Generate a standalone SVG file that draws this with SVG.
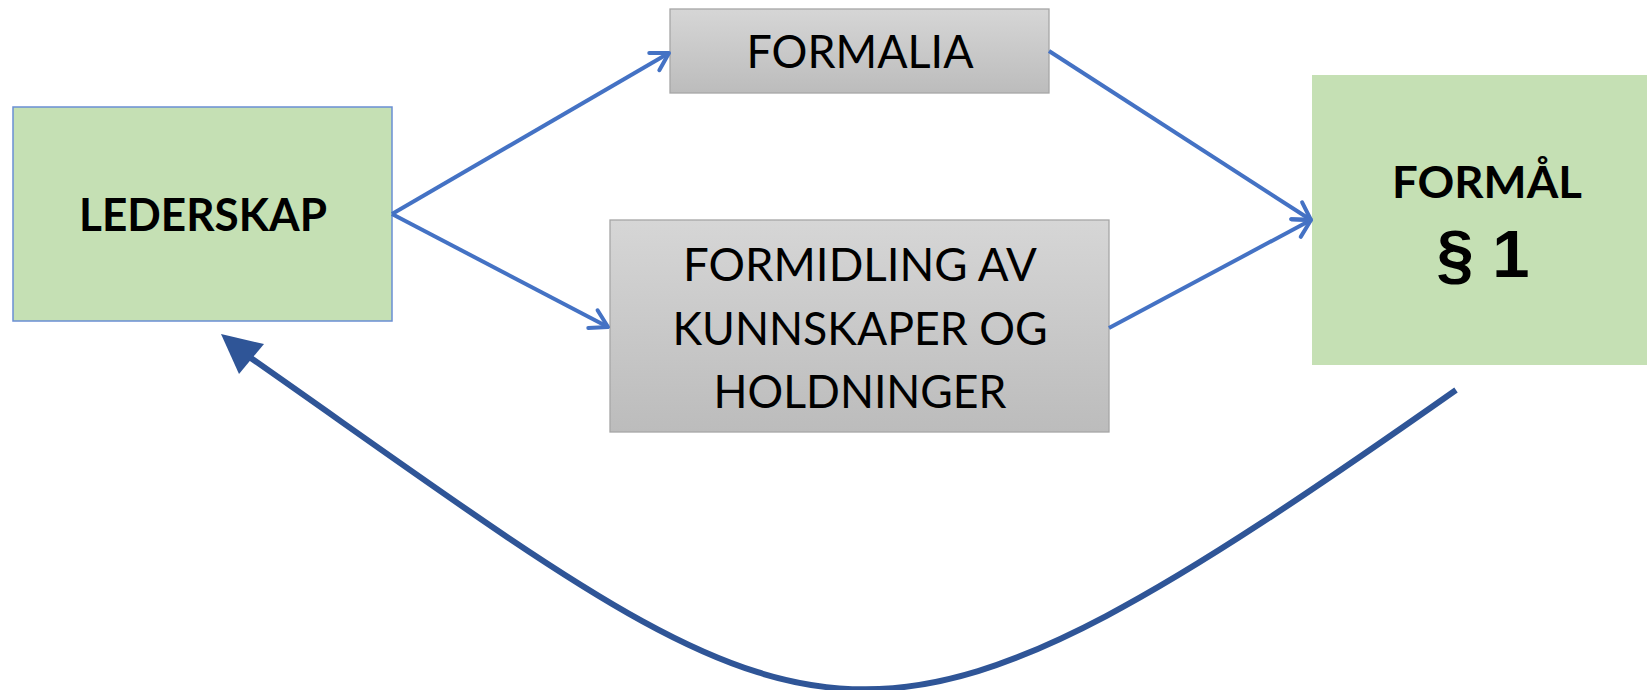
<svg xmlns="http://www.w3.org/2000/svg" width="1647" height="690" viewBox="0 0 1647 690">
<style>
.green{fill:#C5E0B4}
.gray{fill:url(#grayGrad);stroke:#A6A6A6;stroke-width:1.3}
.lbl{font-family:Lato,"Open Sans","Liberation Sans",sans-serif;fill:#000;text-anchor:middle}
.b{font-weight:bold}
.conn{fill:none;stroke:#4472C4;stroke-width:4;marker-end:url(#chev)}
</style>
<defs>
<linearGradient id="grayGrad" x1="0" y1="0" x2="0" y2="1">
<stop offset="0" stop-color="#D6D6D6"/>
<stop offset="1" stop-color="#BCBCBC"/>
</linearGradient>
<marker id="chev" markerUnits="userSpaceOnUse" viewBox="-25 -15 30 30" refX="0" refY="0" markerWidth="30" markerHeight="30" orient="auto" overflow="visible">
<path d="M-17,-10 L0,0 L-17,10" fill="none" stroke="#4472C4" stroke-width="4" stroke-linecap="round" stroke-linejoin="round"/>
</marker>
</defs>
<rect width="1647" height="690" fill="#FFFFFF"/>

<g id="node-lederskap">
<rect x="13" y="107" width="379" height="214" class="green" stroke="#6A8FD4" stroke-width="1.5"/>
<text x="203" y="231" class="lbl b" font-size="46" textLength="248" lengthAdjust="spacingAndGlyphs">LEDERSKAP</text>
</g>

<g id="node-formalia">
<rect x="670" y="9" width="379" height="84" class="gray"/>
<text x="860" y="68" class="lbl" font-size="46" textLength="227" lengthAdjust="spacingAndGlyphs">FORMALIA</text>
</g>

<g id="node-formidling">
<rect x="610" y="220" width="499" height="212" class="gray"/>
<text x="860" y="281" class="lbl" font-size="47" textLength="354" lengthAdjust="spacingAndGlyphs">FORMIDLING AV</text>
<text x="860" y="345" class="lbl" font-size="47" textLength="375" lengthAdjust="spacingAndGlyphs">KUNNSKAPER OG</text>
<text x="860" y="408" class="lbl" font-size="47" textLength="293" lengthAdjust="spacingAndGlyphs">HOLDNINGER</text>
</g>

<g id="node-formal">
<rect x="1312" y="75" width="345" height="290" class="green"/>
<text x="1487" y="198" class="lbl b" font-size="43" textLength="190" lengthAdjust="spacingAndGlyphs">FORMÅL</text>
<text x="1483" y="277" font-family="'Liberation Sans',Arial,sans-serif" font-weight="bold" font-size="67" text-anchor="middle">§ 1</text>
</g>

<g id="connectors">
<line x1="392" y1="214" x2="669" y2="53" class="conn"/>
<line x1="392" y1="214" x2="608" y2="327" class="conn"/>
<line x1="1049" y1="51" x2="1311" y2="220" class="conn"/>
<line x1="1109" y1="328" x2="1311" y2="220" class="conn"/>
<path d="M1456,390 C840,823 831,764 248,356" fill="none" stroke="#2F5597" stroke-width="6"/>
<polygon points="221,334 264,344 239,374" fill="#2F5597"/>
</g>
</svg>
